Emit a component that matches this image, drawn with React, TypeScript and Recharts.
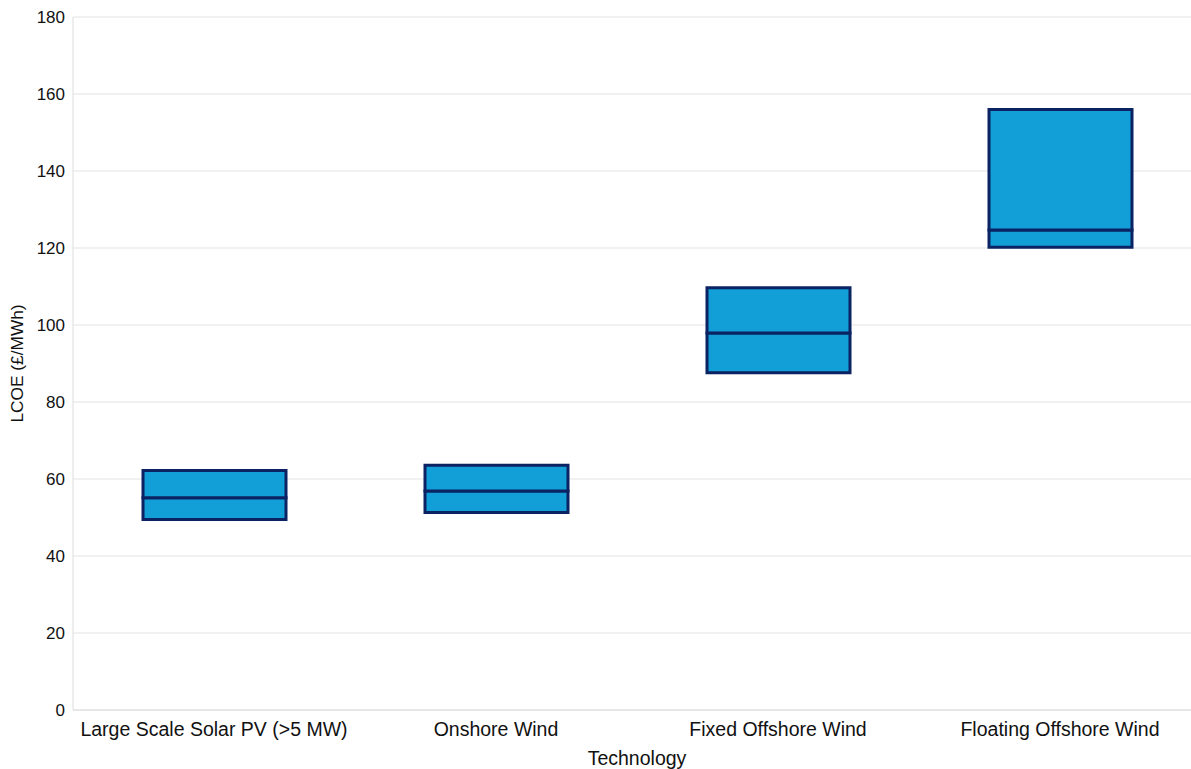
import { ComposedChart, Bar, XAxis, YAxis, CartesianGrid } from 'recharts';

const technologies = ['Large Scale Solar PV (>5 MW)', 'Onshore Wind', 'Fixed Offshore Wind', 'Floating Offshore Wind'];
const lowValues = [49.5, 51.3, 87.6, 120.2];
const midValues = [55.1, 56.9, 97.9, 124.7];
const highValues = [62.2, 63.6, 109.7, 156.0];
const yTicks = [0, 20, 40, 60, 80, 100, 120, 140, 160, 180];

const FILL = '#129ED6';
const EDGE = '#0B2362';
const FONT = '"Liberation Sans", Arial, sans-serif';

// stacked: invisible base up to the low value, then two boxes meeting at the median
const data = technologies.map((name, i) => ({
  name,
  base: lowValues[i],
  lower: midValues[i] - lowValues[i],
  upper: highValues[i] - midValues[i],
}));

export default function App() {
  return (
    <div style={{ position: 'absolute', left: 0, top: 0, fontFamily: FONT }}>
      <ComposedChart width={1191} height={769} data={data} margin={{ top: 17, right: -10, left: 0, bottom: 0 }}>
        <CartesianGrid vertical={false} stroke="#e3e3e3" />
        <XAxis
          dataKey="name"
          height={59}
          tickLine={false}
          tickMargin={6}
          axisLine={{ stroke: '#dcdcdc' }}
          tick={{ fill: '#111', fontSize: 19.5, fontFamily: FONT }}
          interval={0}
          label={{ value: 'Technology', position: 'insideBottom', offset: 4, fill: '#111', fontSize: 19.5, fontFamily: FONT }}
        />
        <YAxis
          width={73}
          domain={[0, 180]}
          ticks={yTicks}
          tickLine={false}
          axisLine={{ stroke: '#dcdcdc' }}
          tick={{ fill: '#111', fontSize: 17, fontFamily: FONT }}
          label={{ value: 'LCOE (£/MWh)', angle: -90, position: 'insideLeft', offset: 17, style: { textAnchor: 'middle' }, fill: '#111', fontSize: 17.3, fontFamily: FONT }}
        />
        <Bar dataKey="base" stackId="box" fill="transparent" barSize={143} isAnimationActive={false} />
        <Bar dataKey="lower" stackId="box" fill={FILL} stroke={EDGE} strokeWidth={3} barSize={143} isAnimationActive={false} />
        <Bar dataKey="upper" stackId="box" fill={FILL} stroke={EDGE} strokeWidth={3} barSize={143} isAnimationActive={false} />
      </ComposedChart>
    </div>
  );
}
